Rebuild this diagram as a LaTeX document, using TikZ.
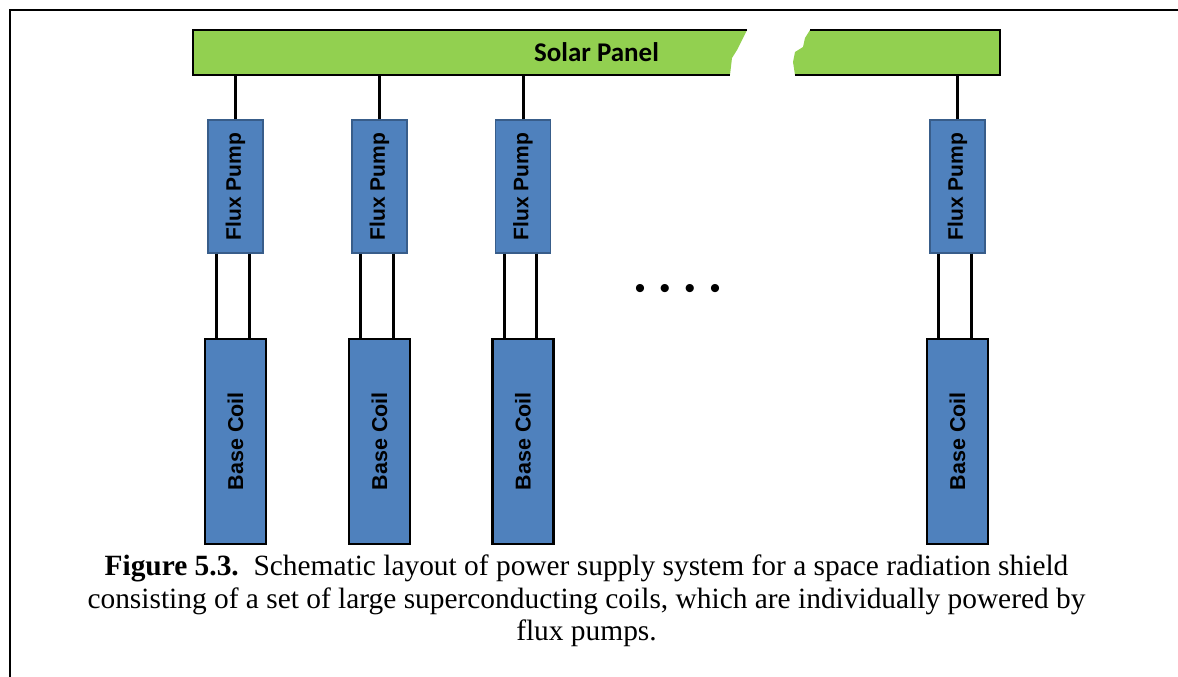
\documentclass[tikz,border=0pt]{standalone}
\usepackage{fontspec}
\setmainfont{Liberation Serif}
\newfontfamily\arialfont{Liberation Sans}
\newfontfamily\calibrifont{Carlito}
\usepackage{graphicx}
\usepackage{tikz}
\usetikzlibrary{positioning,calc}
\usepackage{xcolor}
\definecolor{panelgreen}{HTML}{92D050}
\definecolor{unitblue}{HTML}{4F81BD}
\definecolor{unitedge}{HTML}{385D8A}
\newcommand{\uptext}[1]{\rotatebox{90}{#1}}

\begin{document}
\begin{tikzpicture}[x=1pt, y=-1pt,
  every node/.style={inner sep=0pt},
  panel/.style={minimum width=807pt, minimum height=45pt,
                font=\calibrifont\bfseries\fontsize{27}{32}\selectfont},
  pump/.style={draw=unitedge, line width=1.2pt, fill=unitblue,
               minimum width=55pt, minimum height=133pt,
               font=\arialfont\bfseries\fontsize{21}{25}\selectfont},
  coil/.style={draw=black, line width=2.4pt, fill=unitblue,
               minimum width=61pt, minimum height=205pt,
               font=\arialfont\bfseries\fontsize{21.5}{25}\selectfont},
  wire/.style={line width=3pt},
  frame/.style={line width=2.5pt}
]
  \useasboundingbox (0,0) rectangle (1178,677);

  % frame of the figure
  \draw[frame] (1178,10) -- (10,10) -- (10,677);

  % solar panel, broken in two
  \fill[panelgreen] (193,30) -- (747,30) -- (742,40) -- (737,50) -- (732,58)
    -- (730,75) -- (193,75) -- cycle;
  \fill[panelgreen] (810,30) -- (1000,30) -- (1000,75) -- (795,75) -- (793,62)
    -- (795,52) -- (803,47) -- (805,38) -- cycle;
  \draw[frame] (747,30) -- (193,30) -- (193,75) -- (730,75);
  \draw[frame] (810,30) -- (1000,30) -- (1000,75) -- (795,75);
  \node[panel] (sp) at (596.5,52.5) {Solar Panel};

  % flux pumps
  \node[pump] (fp1) at (235.5,186.5) {\uptext{Flux Pump}};
  \node[pump] (fp2) at (379.5,186.5) {\uptext{Flux Pump}};
  \node[pump] (fp3) at (523,186.5) {\uptext{Flux Pump}};
  \node[pump] (fp4) at (957.5,186.5) {\uptext{Flux Pump}};

  % base coils
  \node[coil, below=84pt of fp1] (bc1) {\uptext{Base Coil}};
  \node[coil, below=84pt of fp2] (bc2) {\uptext{Base Coil}};
  \node[coil, below=84pt of fp3] (bc3) {\uptext{Base Coil}};
  \node[coil, below=84pt of fp4] (bc4) {\uptext{Base Coil}};

  \node[font=\arialfont\fontsize{30}{30}\selectfont, anchor=base]
    (dots) at (677.5,298)
    {\textbullet\hspace{14.5pt}\textbullet\hspace{14.5pt}\textbullet\hspace{14.5pt}\textbullet};

  % panel to pumps
  \draw[wire] (fp1.north) -- (fp1.north |- sp.south);
  \draw[wire] (fp2.north) -- (fp2.north |- sp.south);
  \draw[wire] (fp3.north) -- (fp3.north |- sp.south);
  \draw[wire] (fp4.north) -- (fp4.north |- sp.south);

  % pumps to coils
  \draw[wire] ([xshift=-19pt]fp1.south) -- ([xshift=-19pt]bc1.north);
  \draw[wire] ([xshift=13.5pt]fp1.south) -- ([xshift=13.5pt]bc1.north);
  \draw[wire] ([xshift=-19pt]fp2.south) -- ([xshift=-19pt]bc2.north);
  \draw[wire] ([xshift=13.5pt]fp2.south) -- ([xshift=13.5pt]bc2.north);
  \draw[wire] ([xshift=-19pt]fp3.south) -- ([xshift=-19pt]bc3.north);
  \draw[wire] ([xshift=13.5pt]fp3.south) -- ([xshift=13.5pt]bc3.north);
  \draw[wire] ([xshift=-19pt]fp4.south) -- ([xshift=-19pt]bc4.north);
  \draw[wire] ([xshift=13.5pt]fp4.south) -- ([xshift=13.5pt]bc4.north);

  \node[font=\fontsize{29.4}{32.3}\selectfont, align=center] (cap) at (586.5,601)
    {\textbf{Figure 5.3.}\ \ Schematic layout of power supply system for a space radiation shield\\
     consisting of a set of large superconducting coils, which are individually powered by\\
     flux pumps.};
\end{tikzpicture}
\end{document}
